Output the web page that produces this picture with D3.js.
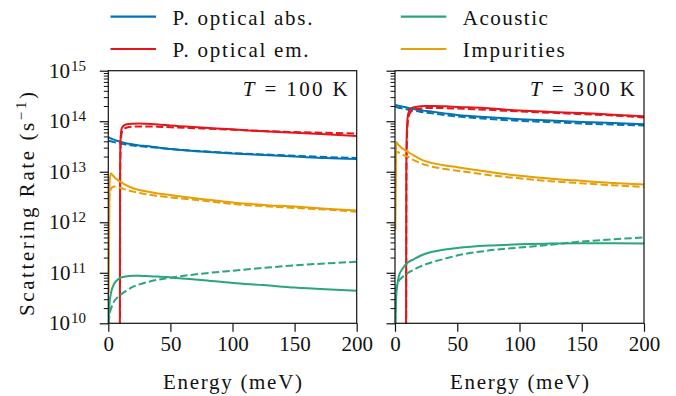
<!DOCTYPE html>
<html>
<head>
<meta charset="utf-8">
<script src="https://cdn.jsdelivr.net/npm/d3@7"></script>
<style>
  body { margin: 0; background: #fff; }
  svg text { font-family: "Liberation Serif", "DejaVu Serif", serif; fill: #111; }
</style>
</head>
<body>
<div id="chart"></div>
<script>
// shared energy grid (meV)
const energy = [0.3, 1, 2, 3, 5, 7.5, 10, 15, 20, 25, 30, 40, 50, 75, 100, 125, 150, 175, 200];

// T = 100 K
const absSolid100 = [4.8e13, 4.68e13, 4.57e13, 4.47e13, 4.27e13, 4.07e13, 3.89e13, 3.63e13, 3.47e13, 3.31e13, 3.24e13, 3.02e13, 2.82e13, 2.51e13, 2.29e13, 2.14e13, 2.0e13, 1.86e13, 1.78e13];
const absDashed100 = [4.1e13, 4.05e13, 4.0e13, 3.95e13, 3.85e13, 3.72e13, 3.6e13, 3.42e13, 3.3e13, 3.2e13, 3.12e13, 2.97e13, 2.82e13, 2.55e13, 2.35e13, 2.2e13, 2.07e13, 1.96e13, 1.87e13];
const impSolid100 = [4e10, 6e12, 9.3e12, 8.8e12, 7.8e12, 6.9e12, 6.3e12, 5.3e12, 4.7e12, 4.35e12, 4.1e12, 3.7e12, 3.45e12, 2.9e12, 2.45e12, 2.2e12, 2.04e12, 1.85e12, 1.7e12];
const impDashed100 = [1e12, 3.6e12, 4.5e12, 4.9e12, 5.1e12, 4.95e12, 4.75e12, 4.35e12, 4.05e12, 3.8e12, 3.6e12, 3.3e12, 3.1e12, 2.7e12, 2.3e12, 2.08e12, 1.92e12, 1.78e12, 1.62e12];
const acSolid100 = [1.0e10, 2.5e10, 3.8e10, 4.8e10, 6.2e10, 7.3e10, 8.0e10, 8.5e10, 8.7e10, 8.7e10, 8.6e10, 8.4e10, 8.1e10, 7.2e10, 6.3e10, 5.7e10, 5.1e10, 4.7e10, 4.4e10];
const acDashed100 = [1.0e10, 1.5e10, 1.9e10, 2.2e10, 2.8e10, 3.3e10, 3.7e10, 4.5e10, 5.3e10, 5.9e10, 6.4e10, 7.3e10, 8.0e10, 9.6e10, 1.1e11, 1.25e11, 1.4e11, 1.53e11, 1.65e11];
const emEnergySolid100 = [9.2, 9.35, 9.5, 9.8, 10.3, 11, 12.5, 15, 20, 25, 30, 40, 50, 75, 100, 125, 150, 175, 200];
const emSolid100 = [1e8, 1e11, 1e13, 4e13, 6.2e13, 7.4e13, 8.2e13, 8.7e13, 8.9e13, 9.0e13, 8.9e13, 8.6e13, 8.2e13, 7.5e13, 6.9e13, 6.3e13, 5.9e13, 5.5e13, 5.1e13];
const emEnergyDashed100 = [9.3, 9.45, 9.6, 10, 10.6, 11.5, 13, 15, 20, 25, 30, 40, 50, 75, 100, 125, 150, 175, 200];
const emDashed100 = [1e8, 1e11, 1e13, 3.5e13, 5.5e13, 6.6e13, 7.2e13, 7.5e13, 7.8e13, 7.9e13, 7.9e13, 7.8e13, 7.6e13, 7.2e13, 6.8e13, 6.4e13, 6.1e13, 5.9e13, 5.7e13];

// T = 300 K
const absSolid300 = [2.1e14, 2.08e14, 2.05e14, 2.02e14, 1.97e14, 1.91e14, 1.85e14, 1.75e14, 1.66e14, 1.6e14, 1.54e14, 1.43e14, 1.33e14, 1.2e14, 1.1e14, 1.03e14, 9.7e13, 9.2e13, 8.7e13];
const absDashed300 = [1.93e14, 1.91e14, 1.88e14, 1.85e14, 1.81e14, 1.76e14, 1.71e14, 1.62e14, 1.54e14, 1.48e14, 1.43e14, 1.33e14, 1.24e14, 1.11e14, 1.02e14, 9.6e13, 9.0e13, 8.6e13, 8.2e13];
const impSolid300 = [7e11, 3.9e13, 3.6e13, 3.35e13, 3.0e13, 2.72e13, 2.5e13, 2.1e13, 1.8e13, 1.6e13, 1.48e13, 1.33e13, 1.23e13, 1.0e13, 8.3e12, 7.3e12, 6.6e12, 6.0e12, 5.6e12];
const impDashed300 = [5e12, 2.5e13, 2.45e13, 2.4e13, 2.25e13, 2.1e13, 2.0e13, 1.7e13, 1.5e13, 1.35e13, 1.26e13, 1.13e13, 1.05e13, 8.6e12, 7.4e12, 6.5e12, 5.9e12, 5.4e12, 5.0e12];
const acSolid300 = [1e10, 3.5e10, 6e10, 8.5e10, 1.1e11, 1.35e11, 1.58e11, 1.85e11, 2.15e11, 2.4e11, 2.6e11, 2.9e11, 3.1e11, 3.45e11, 3.65e11, 3.8e11, 3.85e11, 3.85e11, 3.8e11];
const acDashed300 = [1e10, 5.0e10, 6.0e10, 6.8e10, 7.8e10, 8.8e10, 9.8e10, 1.15e11, 1.32e11, 1.48e11, 1.62e11, 1.9e11, 2.2e11, 2.75e11, 3.16e11, 3.6e11, 4.15e11, 4.6e11, 5.0e11];
const emEnergySolid300 = [8.8, 8.95, 9.1, 9.4, 9.9, 10.6, 12, 14.5, 20, 25, 30, 40, 50, 75, 100, 125, 150, 175, 200];
const emSolid300 = [1e8, 1e11, 1e13, 5e13, 1.0e14, 1.4e14, 1.7e14, 1.88e14, 1.97e14, 2.0e14, 2.0e14, 1.97e14, 1.92e14, 1.8e14, 1.63e14, 1.53e14, 1.45e14, 1.35e14, 1.26e14];
const emEnergyDashed300 = [8.9, 9.05, 9.2, 9.6, 10.2, 11, 12.5, 15, 20, 25, 30, 40, 50, 75, 100, 125, 150, 175, 200];
const emDashed300 = [1e8, 1e11, 1e13, 4.5e13, 9e13, 1.25e14, 1.5e14, 1.68e14, 1.78e14, 1.82e14, 1.83e14, 1.82e14, 1.78e14, 1.68e14, 1.56e14, 1.47e14, 1.38e14, 1.3e14, 1.18e14];

const xTicks = [0, 50, 100, 150, 200];
const yExponents = [10, 11, 12, 13, 14, 15];
const temperatures = ["100", "300"];
const legendLabels = ["P. optical abs.", "P. optical em.", "Acoustic", "Impurities"];

const colors = { abs: "#0173b2", em: "#e3161b", ac: "#2aa57c", imp: "#e69f05" };

const width = 676, height = 396;
const plotTop = 70.7, plotBottom = 323.3;
const panelX = [[108.3, 356.7], [395, 644]];
const fontSize = 21;

const svg = d3.select("#chart").append("svg")
  .attr("width", width)
  .attr("height", height);

const y = d3.scaleLog().domain([1e10, 1e15]).range([plotBottom, plotTop]);

const panelSeries = [
  [
    { e: energy, v: absSolid100, c: colors.abs, dash: false },
    { e: energy, v: absDashed100, c: colors.abs, dash: true },
    { e: emEnergySolid100, v: emSolid100, c: colors.em, dash: false },
    { e: emEnergyDashed100, v: emDashed100, c: colors.em, dash: true },
    { e: energy, v: impSolid100, c: colors.imp, dash: false },
    { e: energy, v: impDashed100, c: colors.imp, dash: true },
    { e: energy, v: acSolid100, c: colors.ac, dash: false },
    { e: energy, v: acDashed100, c: colors.ac, dash: true }
  ],
  [
    { e: energy, v: absSolid300, c: colors.abs, dash: false },
    { e: energy, v: absDashed300, c: colors.abs, dash: true },
    { e: emEnergySolid300, v: emSolid300, c: colors.em, dash: false },
    { e: emEnergyDashed300, v: emDashed300, c: colors.em, dash: true },
    { e: energy, v: impSolid300, c: colors.imp, dash: false },
    { e: energy, v: impDashed300, c: colors.imp, dash: true },
    { e: energy, v: acSolid300, c: colors.ac, dash: false },
    { e: energy, v: acDashed300, c: colors.ac, dash: true }
  ]
];

panelX.forEach((px, i) => {
  const x = d3.scaleLinear().domain([0, 200]).range(px);
  const g = svg.append("g");

  g.append("clipPath").attr("id", "clip" + i)
    .append("rect")
    .attr("x", px[0]).attr("y", plotTop)
    .attr("width", px[1] - px[0]).attr("height", plotBottom - plotTop);

  const line = d3.line()
    .x(d => x(d[0]))
    .y(d => y(d[1]))
    .curve(d3.curveMonotoneX);

  const plot = g.append("g").attr("clip-path", "url(#clip" + i + ")");
  panelSeries[i].forEach(s => {
    plot.append("path")
      .datum(s.e.map((e, k) => [e, s.v[k]]))
      .attr("d", line)
      .attr("fill", "none")
      .attr("stroke", s.c)
      .attr("stroke-width", 2)
      .attr("stroke-dasharray", s.dash ? "7.4,3.2" : null);
  });

  // x axis
  const xAxis = g.append("g")
    .attr("transform", "translate(0," + plotBottom + ")")
    .call(d3.axisBottom(x).tickValues(xTicks).tickSize(8.5).tickPadding(4).tickFormat(d3.format("d")));
  xAxis.select(".domain").remove();
  xAxis.selectAll("line").attr("stroke", "#111").attr("stroke-width", 1.2);
  xAxis.selectAll("text").style("font-size", fontSize + "px").attr("fill", "#111");

  // y axis with minor ticks
  const minor = [];
  for (let ex = 10; ex < 15; ex++) {
    for (let m = 2; m <= 9; m++) minor.push(m * Math.pow(10, ex));
  }
  const yMinor = g.append("g")
    .attr("transform", "translate(" + px[0] + ",0)")
    .call(d3.axisLeft(y).tickValues(minor).tickSize(4.5).tickFormat(""));
  yMinor.select(".domain").remove();
  yMinor.selectAll("line").attr("stroke", "#111").attr("stroke-width", 1);

  const yMajor = g.append("g")
    .attr("transform", "translate(" + px[0] + ",0)")
    .call(d3.axisLeft(y).tickValues(yExponents.map(e => Math.pow(10, e))).tickSize(8.5).tickFormat(""));
  yMajor.select(".domain").remove();
  yMajor.selectAll("line").attr("stroke", "#111").attr("stroke-width", 1.2);

  if (i === 0) {
    yExponents.forEach(ex => {
      const t = g.append("text")
        .attr("x", 86)
        .attr("y", y(Math.pow(10, ex)) + 7)
        .attr("text-anchor", "end")
        .style("font-size", fontSize + "px");
      t.append("tspan").text("10");
      t.append("tspan").attr("dy", -7).attr("dx", 1).style("font-size", "15px").text(ex);
    });
  }

  // frame
  g.append("rect")
    .attr("x", px[0]).attr("y", plotTop)
    .attr("width", px[1] - px[0]).attr("height", plotBottom - plotTop)
    .attr("fill", "none").attr("stroke", "#111").attr("stroke-width", 1.2);

  // temperature label
  const tl = g.append("text")
    .attr("x", px[1] - 9)
    .attr("y", 96)
    .attr("text-anchor", "end")
    .attr("textLength", 105)
    .attr("lengthAdjust", "spacing")
    .style("font-size", fontSize + "px");
  tl.append("tspan").style("font-style", "italic").text("T");
  tl.append("tspan").text(" = " + temperatures[i] + " K");

  // x axis title
  g.append("text")
    .attr("x", (px[0] + px[1]) / 2)
    .attr("y", 389)
    .attr("text-anchor", "middle")
    .attr("textLength", 139)
    .attr("lengthAdjust", "spacing")
    .style("font-size", fontSize + "px")
    .text("Energy (meV)");
});

// y axis title
const yl = svg.append("text")
  .attr("transform", "translate(33.5,204) rotate(-90)")
  .attr("text-anchor", "middle")
  .attr("textLength", 224)
  .attr("lengthAdjust", "spacing")
  .style("font-size", fontSize + "px");
yl.append("tspan").text("Scattering Rate (s");
yl.append("tspan").attr("dy", -8).style("font-size", "15px").text("\u22121");
yl.append("tspan").attr("dy", 8).text(")");

// legend, two columns
const legendItems = [
  { label: legendLabels[0], c: colors.abs, col: 0, row: 0, w: 140 },
  { label: legendLabels[1], c: colors.em, col: 0, row: 1, w: 136 },
  { label: legendLabels[2], c: colors.ac, col: 1, row: 0, w: 85 },
  { label: legendLabels[3], c: colors.imp, col: 1, row: 1, w: 102 }
];
const legend = svg.append("g");
legendItems.forEach(d => {
  const lx = 110.5 + d.col * 290.3;
  const ly = 16.7 + d.row * 32.3;
  legend.append("line")
    .attr("x1", lx).attr("x2", lx + 45.5)
    .attr("y1", ly).attr("y2", ly)
    .attr("stroke", d.c).attr("stroke-width", 2.2);
  legend.append("text")
    .attr("x", lx + 62).attr("y", ly + 8.3)
    .attr("textLength", d.w)
    .attr("lengthAdjust", "spacing")
    .style("font-size", fontSize + "px")
    .text(d.label);
});
</script>
</body>
</html>
